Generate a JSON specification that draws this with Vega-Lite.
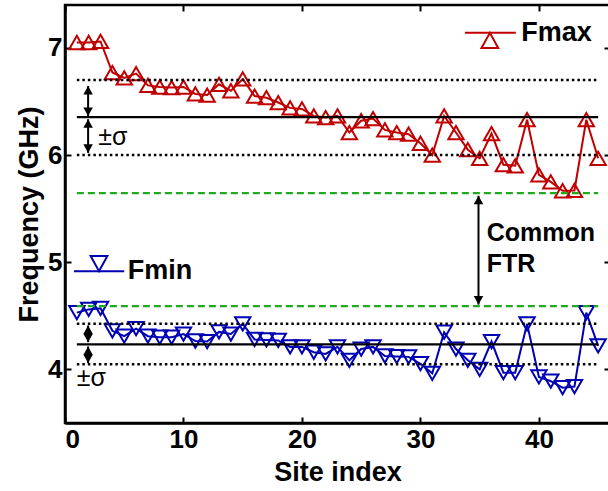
{
  "$schema": "https://vega.github.io/schema/vega-lite/v6.json",
  "width": 545,
  "height": 418,
  "autosize": "none",
  "padding": {"left": 65, "top": 5, "right": 0, "bottom": 68},
  "background": "white",
  "config": {
    "view": {"stroke": "black", "strokeWidth": 2.5},
    "axis": {
      "grid": false,
      "labelFont": "Liberation Sans",
      "labelFontWeight": "bold",
      "labelFontSize": 26,
      "labelColor": "black",
      "titleFont": "Liberation Sans",
      "titleFontWeight": "bold",
      "titleFontSize": 27,
      "titleColor": "black",
      "domainColor": "black",
      "domainWidth": 2.5,
      "tickColor": "black",
      "tickWidth": 2,
      "tickSize": -6,
      "labelPadding": 9
    }
  },
  "datasets": {
    "sites": [
      {"site": 1, "fmax": 7.05, "fmin": 4.53},
      {"site": 2, "fmax": 7.05, "fmin": 4.56},
      {"site": 3, "fmax": 7.06, "fmin": 4.57},
      {"site": 4, "fmax": 6.77, "fmin": 4.36},
      {"site": 5, "fmax": 6.72, "fmin": 4.31},
      {"site": 6, "fmax": 6.76, "fmin": 4.38},
      {"site": 7, "fmax": 6.65, "fmin": 4.31},
      {"site": 8, "fmax": 6.635, "fmin": 4.3},
      {"site": 9, "fmax": 6.63, "fmin": 4.3},
      {"site": 10, "fmax": 6.635, "fmin": 4.33},
      {"site": 11, "fmax": 6.57, "fmin": 4.265},
      {"site": 12, "fmax": 6.56, "fmin": 4.26},
      {"site": 13, "fmax": 6.66, "fmin": 4.35},
      {"site": 14, "fmax": 6.6, "fmin": 4.33},
      {"site": 15, "fmax": 6.71, "fmin": 4.425},
      {"site": 16, "fmax": 6.55, "fmin": 4.28},
      {"site": 17, "fmax": 6.535, "fmin": 4.275},
      {"site": 18, "fmax": 6.49, "fmin": 4.27},
      {"site": 19, "fmax": 6.44, "fmin": 4.21},
      {"site": 20, "fmax": 6.43, "fmin": 4.21},
      {"site": 21, "fmax": 6.365, "fmin": 4.16},
      {"site": 22, "fmax": 6.35, "fmin": 4.145},
      {"site": 23, "fmax": 6.365, "fmin": 4.21},
      {"site": 24, "fmax": 6.21, "fmin": 4.085},
      {"site": 25, "fmax": 6.32, "fmin": 4.19},
      {"site": 26, "fmax": 6.34, "fmin": 4.21},
      {"site": 27, "fmax": 6.235, "fmin": 4.125},
      {"site": 28, "fmax": 6.21, "fmin": 4.12},
      {"site": 29, "fmax": 6.195, "fmin": 4.117},
      {"site": 30, "fmax": 6.11, "fmin": 4.053},
      {"site": 31, "fmax": 6.0, "fmin": 3.963},
      {"site": 32, "fmax": 6.365, "fmin": 4.347},
      {"site": 33, "fmax": 6.21, "fmin": 4.19},
      {"site": 34, "fmax": 6.05, "fmin": 4.085},
      {"site": 35, "fmax": 5.97, "fmin": 4.0},
      {"site": 36, "fmax": 6.2, "fmin": 4.26},
      {"site": 37, "fmax": 5.91, "fmin": 3.97},
      {"site": 38, "fmax": 5.9, "fmin": 3.97},
      {"site": 39, "fmax": 6.33, "fmin": 4.425},
      {"site": 40, "fmax": 5.815, "fmin": 3.93},
      {"site": 41, "fmax": 5.75, "fmin": 3.89},
      {"site": 42, "fmax": 5.667, "fmin": 3.83},
      {"site": 43, "fmax": 5.67, "fmin": 3.84},
      {"site": 44, "fmax": 6.33, "fmin": 4.53},
      {"site": 45, "fmax": 5.97, "fmin": 4.22}
    ],
    "levels": [
      {"kind": "dotted", "level": 6.7},
      {"kind": "solid", "level": 6.353},
      {"kind": "dotted", "level": 6.0},
      {"kind": "dashed", "level": 5.645},
      {"kind": "dashed", "level": 4.59},
      {"kind": "dotted", "level": 4.425},
      {"kind": "solid", "level": 4.233},
      {"kind": "dotted", "level": 4.047}
    ],
    "arrows": [
      {"x": 1.95, "y1": 6.644, "y2": 6.365},
      {"x": 1.95, "y1": 6.334, "y2": 6.02},
      {"x": 1.95, "y1": 4.41, "y2": 4.254},
      {"x": 1.95, "y1": 4.214, "y2": 4.059},
      {"x": 34.9, "y1": 5.62, "y2": 4.605}
    ],
    "heads": [
      {"x": 1.95, "y": 6.644, "dir": "up"},
      {"x": 1.95, "y": 6.365, "dir": "down"},
      {"x": 1.95, "y": 6.334, "dir": "up"},
      {"x": 1.95, "y": 6.02, "dir": "down"},
      {"x": 1.95, "y": 4.41, "dir": "up"},
      {"x": 1.95, "y": 4.254, "dir": "down"},
      {"x": 1.95, "y": 4.214, "dir": "up"},
      {"x": 1.95, "y": 4.059, "dir": "down"},
      {"x": 34.9, "y": 5.62, "dir": "up"},
      {"x": 34.9, "y": 4.605, "dir": "down"}
    ],
    "sigma": [
      {"x": 2.8, "y": 6.17, "text": "±σ"},
      {"x": 1.0, "y": 3.92, "text": "±σ"}
    ],
    "labels": [
      {"x": 35.6, "y": 5.27, "text": "Common"},
      {"x": 35.6, "y": 4.98, "text": "FTR"}
    ],
    "legendText": [
      {"x": 38.5, "y": 7.14, "text": "Fmax"},
      {"x": 5.3, "y": 4.917, "text": "Fmin"}
    ],
    "legendLines": [
      {"series": "Fmax", "x1": 33.76, "x2": 38.05, "y": 7.14, "xm": 35.86},
      {"series": "Fmin", "x1": 0.76, "x2": 5.0, "y": 4.917, "xm": 2.87}
    ]
  },
  "layer": [
    {
      "data": {"name": "sites"},
      "mark": {"type": "line", "color": "#c00000", "strokeWidth": 2},
      "encoding": {
        "x": {"field": "site", "type": "quantitative", "scale": {"domain": [0, 46], "nice": false, "zero": false},
              "axis": {"orient": "bottom", "title": "Site index", "values": [0, 10, 20, 30, 40], "titlePadding": 7}},
        "y": {"field": "fmax", "type": "quantitative", "scale": {"domain": [3.5, 7.4], "nice": false, "zero": false},
              "axis": {"orient": "left", "title": "Frequency (GHz)", "values": [4, 5, 6, 7], "titlePadding": 4}}
      }
    },
    {
      "data": {"name": "sites"},
      "mark": {"type": "point", "shape": "triangle-up", "filled": false, "color": "#c00000", "strokeWidth": 2, "size": 235, "opacity": 1},
      "encoding": {
        "x": {"field": "site", "type": "quantitative", "scale": {"domain": [0, 46], "nice": false, "zero": false}, "axis": null},
        "y": {"field": "fmax", "type": "quantitative", "scale": {"domain": [3.5, 7.4], "nice": false, "zero": false}, "axis": null}
      }
    },
    {
      "data": {"name": "sites"},
      "mark": {"type": "line", "color": "#0000b4", "strokeWidth": 2},
      "encoding": {
        "x": {"field": "site", "type": "quantitative", "scale": {"domain": [0, 46], "nice": false, "zero": false}, "axis": null},
        "y": {"field": "fmin", "type": "quantitative", "scale": {"domain": [3.5, 7.4], "nice": false, "zero": false}, "axis": null}
      }
    },
    {
      "data": {"name": "sites"},
      "mark": {"type": "point", "shape": "triangle-down", "filled": false, "color": "#0000b4", "strokeWidth": 2, "size": 235, "opacity": 1},
      "encoding": {
        "x": {"field": "site", "type": "quantitative", "scale": {"domain": [0, 46], "nice": false, "zero": false}, "axis": null},
        "y": {"field": "fmin", "type": "quantitative", "scale": {"domain": [3.5, 7.4], "nice": false, "zero": false}, "axis": null}
      }
    },
    {
      "data": {"name": "levels"},
      "transform": [{"filter": "datum.kind == 'dotted'"}],
      "mark": {"type": "rule", "color": "black", "strokeWidth": 2.5, "strokeDash": [2.5, 3]},
      "encoding": {
        "x": {"datum": 1, "type": "quantitative", "scale": {"domain": [0, 46], "nice": false, "zero": false}, "axis": null},
        "x2": {"datum": 45},
        "y": {"field": "level", "type": "quantitative", "scale": {"domain": [3.5, 7.4], "nice": false, "zero": false}, "axis": null}
      }
    },
    {
      "data": {"name": "levels"},
      "transform": [{"filter": "datum.kind == 'solid'"}],
      "mark": {"type": "rule", "color": "black", "strokeWidth": 2.2},
      "encoding": {
        "x": {"datum": 1, "type": "quantitative", "scale": {"domain": [0, 46], "nice": false, "zero": false}, "axis": null},
        "x2": {"datum": 45},
        "y": {"field": "level", "type": "quantitative", "scale": {"domain": [3.5, 7.4], "nice": false, "zero": false}, "axis": null}
      }
    },
    {
      "data": {"name": "levels"},
      "transform": [{"filter": "datum.kind == 'dashed'"}],
      "mark": {"type": "rule", "color": "#1faa1f", "strokeWidth": 2.4, "strokeDash": [7, 4]},
      "encoding": {
        "x": {"datum": 1, "type": "quantitative", "scale": {"domain": [0, 46], "nice": false, "zero": false}, "axis": null},
        "x2": {"datum": 45},
        "y": {"field": "level", "type": "quantitative", "scale": {"domain": [3.5, 7.4], "nice": false, "zero": false}, "axis": null}
      }
    },
    {
      "data": {"name": "arrows"},
      "mark": {"type": "rule", "color": "black", "strokeWidth": 2},
      "encoding": {
        "x": {"field": "x", "type": "quantitative", "scale": {"domain": [0, 46], "nice": false, "zero": false}, "axis": null},
        "y": {"field": "y1", "type": "quantitative", "scale": {"domain": [3.5, 7.4], "nice": false, "zero": false}, "axis": null},
        "y2": {"field": "y2"}
      }
    },
    {
      "data": {"name": "heads"},
      "mark": {"type": "point", "filled": true, "color": "black", "size": 90, "opacity": 1, "strokeWidth": 0},
      "encoding": {
        "x": {"field": "x", "type": "quantitative", "scale": {"domain": [0, 46], "nice": false, "zero": false}, "axis": null},
        "y": {"field": "y", "type": "quantitative", "scale": {"domain": [3.5, 7.4], "nice": false, "zero": false}, "axis": null},
        "shape": {"field": "dir", "type": "nominal", "scale": {"domain": ["up", "down"], "range": ["M0,0L-1,1.8L1,1.8Z", "M0,0L-1,-1.8L1,-1.8Z"]}, "legend": null}
      }
    },
    {
      "data": {"name": "sigma"},
      "mark": {"type": "text", "font": "Liberation Sans", "fontSize": 25, "color": "black", "align": "left", "baseline": "middle"},
      "encoding": {
        "x": {"field": "x", "type": "quantitative", "scale": {"domain": [0, 46], "nice": false, "zero": false}, "axis": null},
        "y": {"field": "y", "type": "quantitative", "scale": {"domain": [3.5, 7.4], "nice": false, "zero": false}, "axis": null},
        "text": {"field": "text"}
      }
    },
    {
      "data": {"name": "labels"},
      "mark": {"type": "text", "font": "Liberation Sans", "fontWeight": "bold", "fontSize": 25, "color": "black", "align": "left", "baseline": "middle"},
      "encoding": {
        "x": {"field": "x", "type": "quantitative", "scale": {"domain": [0, 46], "nice": false, "zero": false}, "axis": null},
        "y": {"field": "y", "type": "quantitative", "scale": {"domain": [3.5, 7.4], "nice": false, "zero": false}, "axis": null},
        "text": {"field": "text"}
      }
    },
    {
      "data": {"name": "legendText"},
      "mark": {"type": "text", "font": "Liberation Sans", "fontWeight": "bold", "fontSize": 27, "color": "black", "align": "left", "baseline": "middle"},
      "encoding": {
        "x": {"field": "x", "type": "quantitative", "scale": {"domain": [0, 46], "nice": false, "zero": false}, "axis": null},
        "y": {"field": "y", "type": "quantitative", "scale": {"domain": [3.5, 7.4], "nice": false, "zero": false}, "axis": null},
        "text": {"field": "text"}
      }
    },
    {
      "data": {"name": "legendLines"},
      "mark": {"type": "rule", "strokeWidth": 2},
      "encoding": {
        "x": {"field": "x1", "type": "quantitative", "scale": {"domain": [0, 46], "nice": false, "zero": false}, "axis": null},
        "x2": {"field": "x2"},
        "y": {"field": "y", "type": "quantitative", "scale": {"domain": [3.5, 7.4], "nice": false, "zero": false}, "axis": null},
        "color": {"field": "series", "type": "nominal", "scale": {"domain": ["Fmax", "Fmin"], "range": ["#c00000", "#0000b4"]}, "legend": null}
      }
    },
    {
      "data": {"name": "legendLines"},
      "mark": {"type": "point", "filled": false, "strokeWidth": 2, "size": 280, "opacity": 1},
      "encoding": {
        "x": {"field": "xm", "type": "quantitative", "scale": {"domain": [0, 46], "nice": false, "zero": false}, "axis": null},
        "y": {"field": "y", "type": "quantitative", "scale": {"domain": [3.5, 7.4], "nice": false, "zero": false}, "axis": null},
        "color": {"field": "series", "type": "nominal", "scale": {"domain": ["Fmax", "Fmin"], "range": ["#c00000", "#0000b4"]}, "legend": null},
        "shape": {"field": "series", "type": "nominal", "scale": {"domain": ["Fmax", "Fmin"], "range": ["triangle-up", "triangle-down"]}, "legend": null}
      }
    },
    {
      "data": {"name": "levels"},
      "mark": {"type": "rule", "opacity": 0},
      "encoding": {
        "x": {"datum": 1, "type": "quantitative", "scale": {"domain": [0, 46], "nice": false, "zero": false},
              "axis": {"orient": "top", "labels": false, "title": null, "domain": false, "values": [0, 10, 20, 30, 40]}},
        "x2": {"datum": 45},
        "y": {"field": "level", "type": "quantitative", "scale": {"domain": [3.5, 7.4], "nice": false, "zero": false},
              "axis": {"orient": "right", "labels": false, "title": null, "domain": false, "values": [4, 5, 6, 7]}}
      }
    }
  ],
  "resolve": {"axis": {"x": "independent", "y": "independent"}}
}
